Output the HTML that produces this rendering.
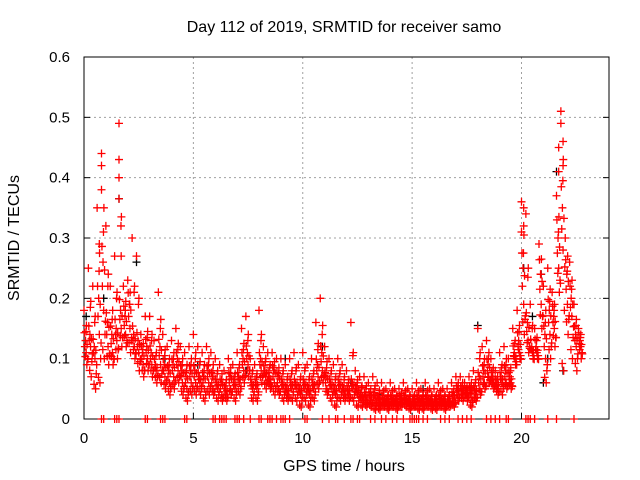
<!DOCTYPE html>
<html><head><meta charset="utf-8"><style>
body{margin:0;background:#fff;}
svg{display:block;font-family:"Liberation Sans",sans-serif;}
</style></head><body>
<svg id="chart" width="640" height="480" viewBox="0 0 640 480" xmlns="http://www.w3.org/2000/svg">
<rect width="640" height="480" fill="#fff"/>
<text x="344" y="32" font-size="16" text-anchor="middle">Day 112 of 2019, SRMTID for receiver samo</text>
<g id="grid"></g>
<g id="axes"></g>
<g id="marks"></g>
<text x="344" y="471" font-size="16" text-anchor="middle">GPS time / hours</text>
<text transform="translate(19,238) rotate(-90)" font-size="16" text-anchor="middle">SRMTID / TECUs</text>
</svg>
<script>
const xTicks=[0,5,10,15,20];
const yTicks=[0,0.1,0.2,0.3,0.4,0.5,0.6];
const yTickLabels=["0","0.1","0.2","0.3","0.4","0.5","0.6"];
const times=[0,0.2,0.4,0.6,0.8,1.0,1.2,1.4,1.6,1.8,2.0,2.2,2.4,2.6,2.8,3.0,3.2,3.4,3.6,3.8,4.0,4.2,4.4,4.6,4.8,5.0,5.2,5.4,5.6,5.8,6.0,6.2,6.4,6.6,6.8,7.0,7.2,7.4,7.6,7.8,8.0,8.2,8.4,8.6,8.8,9.0,9.2,9.4,9.6,9.8,10.0,10.2,10.4,10.6,10.8,11.0,11.2,11.4,11.6,11.8,12.0,12.2,12.4,12.6,12.8,13.0,13.2,13.4,13.6,13.8,14.0,14.2,14.4,14.6,14.8,15.0,15.2,15.4,15.6,15.8,16.0,16.2,16.4,16.6,16.8,17.0,17.2,17.4,17.6,17.8,18.0,18.2,18.4,18.6,18.8,19.0,19.2,19.4,19.6,19.8,20.0,20.2,20.4,20.6,20.8,21.0,21.2,21.4,21.6,21.8,22.0,22.2,22.4,22.6];
const hiVals=[.18,.25,.22,.35,.44,.32,.22,.27,.49,.22,.23,.30,.27,.14,.17,.17,.13,.21,.14,.12,.13,.15,.12,.11,.12,.14,.12,.11,.12,.11,.10,.09,.08,.10,.09,.11,.15,.17,.10,.09,.18,.12,.11,.11,.10,.10,.09,.10,.11,.09,.11,.09,.10,.16,.20,.12,.10,.09,.10,.09,.08,.16,.08,.07,.07,.06,.07,.06,.06,.05,.06,.05,.05,.06,.05,.05,.06,.05,.06,.05,.05,.06,.05,.05,.06,.07,.07,.06,.07,.08,.15,.12,.13,.10,.08,.11,.12,.10,.15,.18,.36,.34,.19,.15,.29,.22,.25,.21,.37,.51,.30,.26,.19,.15];
const midVals=[.13,.14,.12,.20,.26,.16,.14,.15,.18,.17,.19,.14,.13,.11,.12,.11,.09,.12,.09,.08,.09,.10,.08,.07,.08,.08,.07,.07,.08,.07,.06,.06,.05,.07,.06,.07,.10,.11,.06,.06,.10,.08,.07,.08,.07,.06,.05,.06,.06,.05,.06,.05,.06,.09,.11,.07,.06,.05,.06,.05,.05,.06,.05,.04,.04,.04,.04,.035,.035,.03,.035,.03,.035,.035,.03,.03,.035,.03,.035,.03,.03,.035,.03,.03,.04,.05,.05,.045,.05,.05,.07,.08,.09,.07,.06,.07,.08,.07,.11,.13,.25,.16,.12,.12,.24,.14,.18,.17,.30,.35,.24,.20,.14,.13];
const loVals=[.09,.07,.05,.06,.10,.09,.09,.10,.12,.12,.11,.10,.08,.07,.08,.07,.06,.06,.05,.04,.05,.06,.04,.03,.04,.04,.04,.03,.04,.04,.03,.03,.03,.04,.03,.04,.06,.07,.03,.03,.06,.05,.05,.04,.04,.03,.03,.03,.03,.02,.03,.02,.03,.05,.06,.04,.03,.02,.03,.03,.03,.03,.02,.02,.02,.02,.015,.015,.02,.015,.02,.015,.02,.02,.015,.02,.015,.015,.02,.015,.015,.02,.015,.02,.02,.03,.03,.03,.02,.03,.04,.05,.06,.05,.04,.04,.05,.05,.09,.10,.14,.11,.10,.10,.15,.06,.10,.12,.21,.08,.14,.10,.08,.10];
const mid2Vals=[.11,.12,.10,.14,.18,.12,.11,.13,.15,.14,.15,.12,.11,.09,.10,.09,.08,.09,.07,.06,.07,.08,.06,.05,.06,.06,.06,.05,.06,.05,.05,.04,.04,.05,.05,.06,.08,.09,.05,.05,.08,.07,.06,.06,.05,.05,.04,.05,.05,.04,.05,.04,.05,.07,.08,.05,.05,.04,.05,.04,.04,.05,.04,.035,.03,.03,.03,.025,.03,.025,.03,.025,.03,.03,.025,.025,.03,.025,.03,.025,.025,.03,.025,.025,.03,.04,.04,.04,.035,.04,.05,.06,.07,.06,.05,.06,.06,.06,.10,.11,.19,.13,.11,.11,.19,.10,.14,.15,.25,.28,.19,.17,.12,.12];
const outX=[0.8,0.8,0.7,1.6,1.6,1.6,1.7,21.7,21.8,21.9,21.7,21.9,20.1,20.1,20.0];
const outY=[0.42,0.38,0.29,0.43,0.40,0.365,0.27,0.45,0.49,0.46,0.41,0.42,0.35,0.32,0.31];
const blackX=[0.1,0.9,1.6,2.4,3.7,5.2,9.2,10.9,18.0,20.1,20.5,20.9,21.6,21.9,21.2,21.0,13.5,15.5,7.4,12.2];
const blackY=[0.17,0.2,0.365,0.26,0.1,0.09,0.1,0.12,0.155,0.25,0.17,0.24,0.41,0.08,0.1,0.06,0.04,0.05,0.08,0.06];
const zeroX=[0.8,0.9,1.4,1.5,1.6,2.8,2.9,3.5,3.6,3.7,4.6,4.7,5.9,6.0,6.2,6.3,6.4,6.5,6.9,7.0,7.1,7.3,7.6,8.0,8.1,8.4,8.5,8.6,8.8,9.0,9.1,9.2,9.4,10.1,10.2,10.9,11.2,11.5,11.6,11.9,12.2,12.3,12.5,12.6,13.1,13.3,13.6,13.8,14.1,14.3,14.6,14.9,15.0,15.1,15.2,15.3,15.5,15.7,16.3,16.5,16.7,17.1,17.3,17.5,17.7,18.4,18.6,18.8,19.0,19.3,19.4,20.2,20.3,20.4,20.6,21.2,21.6,22.4];

const L=84,R=609,T=57,B=419,XMAX=24,YMAX=0.6;
const xs=v=>L+v/XMAX*(R-L);
const ys=v=>B-v/YMAX*(B-T);
const NS="http://www.w3.org/2000/svg";
function mk(tag,parent){const e=document.createElementNS(NS,tag);parent.appendChild(e);return e;}
const grid=document.getElementById('grid'),axes=document.getElementById('axes'),marks=document.getElementById('marks');
xTicks.forEach(t=>{
  const x=xs(t);
  if(t>0){const g=mk('line',grid);
  
  
  g.setAttribute('x1',x);g.setAttribute('x2',x);g.setAttribute('y1',T);g.setAttribute('y2',B);
  g.setAttribute('stroke','#a0a0a0');g.setAttribute('stroke-dasharray','2,3');}
  const tk=mk('line',axes);
  
  
  tk.setAttribute('x1',x);tk.setAttribute('x2',x);tk.setAttribute('y1',B);tk.setAttribute('y2',B-6);tk.setAttribute('stroke','#000');
  const lb=mk('text',axes);
  
  
  lb.setAttribute('x',x);lb.setAttribute('y',443);lb.setAttribute('font-size','15');lb.setAttribute('text-anchor','middle');lb.textContent=t;
});
yTicks.forEach((t,i)=>{
  const y=ys(t);
  if(t>0){const g=mk('line',grid);
  
  
  g.setAttribute('x1',L);g.setAttribute('x2',R);g.setAttribute('y1',y);g.setAttribute('y2',y);
  g.setAttribute('stroke','#a0a0a0');g.setAttribute('stroke-dasharray','2,3');}
  [[L,L+6],[R,R-6]].forEach(p=>{const tk=mk('line',axes);
  
  
  tk.setAttribute('x1',p[0]);tk.setAttribute('x2',p[1]);tk.setAttribute('y1',y);tk.setAttribute('y2',y);tk.setAttribute('stroke','#000');});
  const lb=mk('text',axes);
  
  
  lb.setAttribute('x',70);lb.setAttribute('y',y+5);lb.setAttribute('font-size','15');lb.setAttribute('text-anchor','end');lb.textContent=yTickLabels[i];
});
const fr=mk('rect',axes);


fr.setAttribute('x',L);fr.setAttribute('y',T);fr.setAttribute('width',R-L);fr.setAttribute('height',B-T);fr.setAttribute('fill','none');fr.setAttribute('stroke','#000');
function plus(x,y,col){
  const p=mk('path',marks);
  
  
  const px=xs(x),py=ys(y);
  p.setAttribute('d',`M${px-4} ${py}H${px+4}M${px} ${py-4}V${py+4}`);
  p.setAttribute('stroke',col);p.setAttribute('stroke-width','1.3');p.setAttribute('fill','none');
}
blackX.forEach((x,i)=>plus(x,blackY[i],'#000'));
times.forEach((t,i)=>{
  const h=hiVals[i],m=midVals[i],l=loVals[i],m2=mid2Vals[i];
  plus(t,h,'#f00');plus(t+0.11,(h+m)/2,'#f00');
  plus(t+0.07,m,'#f00');plus(t+0.13,l,'#f00');plus(t+0.1,m2,'#f00');
  plus(t+0.04,(m+m2)/2,'#f00');plus(t+0.16,(l+m2)/2,'#f00');
  plus(t+0.02,m*1.1,'#f00');plus(t+0.18,m2*0.9,'#f00');plus(t+0.06,l*1.15,'#f00');
  plus(t+0.14,m*0.95,'#f00');plus(t+0.09,(h+m2)/2,'#f00');
});
outX.forEach((x,i)=>plus(x,outY[i],'#f00'));
zeroX.forEach(x=>plus(x,0,'#f00'));
</script>
</body></html>
